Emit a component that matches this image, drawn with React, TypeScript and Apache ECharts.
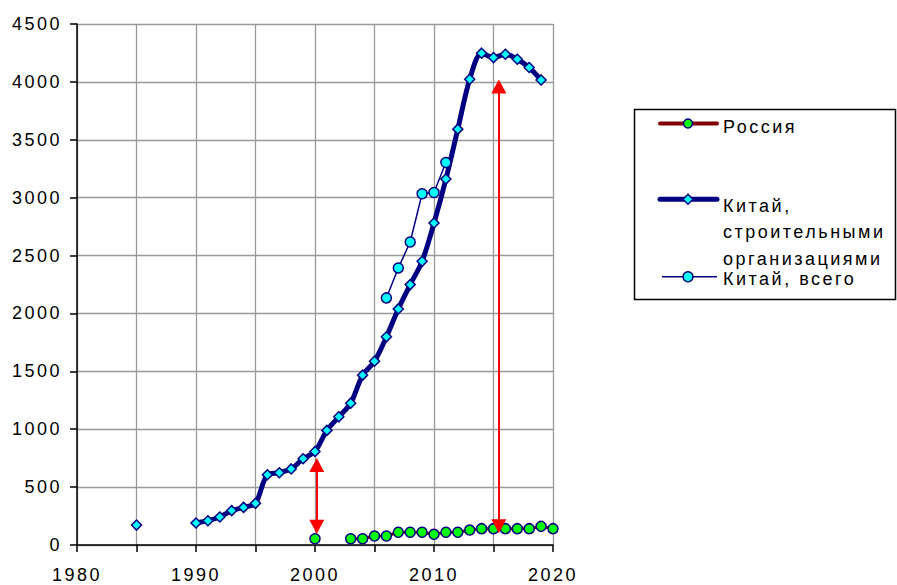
import React, { useEffect, useRef } from 'react';
import * as echarts from 'echarts';

const years = [
  1985, 1986, 1987, 1988, 1989, 1990, 1991, 1992, 1993, 1994, 1995, 1996,
  1997, 1998, 1999, 2000, 2001, 2002, 2003, 2004, 2005, 2006, 2007, 2008,
  2009, 2010, 2011, 2012, 2013, 2014, 2015, 2016, 2017, 2018, 2019, 2020,
];

const russia: (number | null)[] = [
  null, null, null, null, null, null, null, null, null, null, null, null,
  null, null, null, 54, null, null, 54, 54, 78, 78, 110, 110,
  110, 92, 110, 110, 129, 141, 141, 141, 141, 141, 161, 141,
];

const chinaConstruction: (number | null)[] = [
  172, null, null, null, null, 190, 210, 242, 297, 325, 360, 607,
  624, 657, 745, 808, 990, 1107, 1225, 1467, 1587, 1798, 2039, 2249,
  2450, 2781, 3161, 3592, 4023, 4248, 4210, 4239, 4196, 4124, 4017, null,
];

const chinaTotal: (number | null)[] = [
  null, null, null, null, null, null, null, null, null, null, null, null,
  null, null, null, null, null, null, null, null, null, 2134, 2393, 2617,
  3034, 3045, 3304, null, null, null, null, null, null, null, null, null,
];

const seriesNames = ['Россия', 'Китай,\nстроительными\nорганизациями', 'Китай, всего'];

// red double-headed arrows (arrow-head centres): year, upper value, lower value
const arrowYears = [2000.15, 2015.45];
const arrowTop = [690, 3960];
const arrowBottom = [157, 163];

const FONT = '"Liberation Sans", Arial, sans-serif';
const FS = 18;

const pairs = (vals: (number | null)[]) =>
  years.map((y, i) => [y, vals[i] === null ? '-' : vals[i]]);

export default function App() {
  const ref = useRef<HTMLDivElement>(null);
  useEffect(() => {
    document.body.style.margin = '0';
    const chart = echarts.init(ref.current!, null, { renderer: 'svg' });
    const option: any = {
      animation: false,
      backgroundColor: '#ffffff',
      textStyle: { fontFamily: FONT },
      grid: { left: 77, right: 344, top: 24, bottom: 40, containLabel: false },
      xAxis: {
        type: 'value',
        min: 1980,
        max: 2020,
        interval: 5,
        axisLine: { show: true, onZero: false, lineStyle: { color: '#000', width: 1.5 } },
        axisTick: { show: true, length: 7, lineStyle: { color: '#000', width: 1.5 } },
        axisLabel: {
          color: '#000',
          fontSize: FS,
          fontFamily: FONT,
          margin: 21,
          formatter: (v: number) => (v % 10 === 0 ? String(v) : ''),
        },
        splitLine: { show: true, lineStyle: { color: '#999', width: 1.3 } },
      },
      yAxis: {
        type: 'value',
        min: 0,
        max: 4500,
        interval: 500,
        axisLine: { show: true, lineStyle: { color: '#000', width: 1.5 } },
        axisTick: { show: true, length: 7, lineStyle: { color: '#000', width: 1.5 } },
        axisLabel: {
          color: '#000',
          fontSize: FS,
          fontFamily: FONT,
          margin: 15,
          formatter: (v: number) => String(v),
        },
        splitLine: { show: true, lineStyle: { color: '#999', width: 1.3 } },
      },
      series: [
        {
          name: seriesNames[0],
          type: 'line',
          data: pairs(russia),
          symbol: 'circle',
          symbolSize: 10,
          showSymbol: true,
          connectNulls: false,
          lineStyle: { color: '#800000', width: 3 },
          itemStyle: { color: '#00ff00', borderColor: '#000080', borderWidth: 1.5 },
          z: 2,
        },
        {
          name: seriesNames[1],
          type: 'line',
          data: pairs(chinaConstruction),
          symbol: 'diamond',
          symbolSize: 10,
          showSymbol: true,
          smooth: 0.3,
          connectNulls: false,
          lineStyle: { color: '#000080', width: 5 },
          itemStyle: { color: '#00ffff', borderColor: '#000080', borderWidth: 1.5 },
          z: 3,
        },
        {
          name: seriesNames[2],
          type: 'line',
          data: pairs(chinaTotal),
          symbol: 'circle',
          symbolSize: 10,
          showSymbol: true,
          connectNulls: false,
          lineStyle: { color: '#000080', width: 1.5 },
          itemStyle: { color: '#00ffff', borderColor: '#000080', borderWidth: 1.5 },
          z: 4,
        },
        {
          name: 'arrows',
          type: 'line',
          data: [],
          z: 5,
          markLine: {
            silent: true,
            symbol: ['triangle', 'triangle'],
            symbolSize: [15, 14],
            label: { show: false },
            lineStyle: { color: '#ff0000', width: 2, type: 'solid' },
            data: arrowYears.map((yr, i) => [
              { coord: [yr, arrowTop[i]] },
              { coord: [yr, arrowBottom[i]] },
            ]),
          },
        },
      ],
      graphic: [
        {
          type: 'rect',
          shape: { x: 634.5, y: 109.5, width: 261, height: 190 },
          style: { fill: '#fff', stroke: '#000', lineWidth: 1.5 },
          z: 10,
        },
        {
          type: 'line',
          shape: { x1: 660, y1: 123.5, x2: 717, y2: 123.5 },
          style: { stroke: '#800000', lineWidth: 4, lineCap: 'round' },
          z: 11,
        },
        {
          type: 'circle',
          shape: { cx: 688, cy: 123.5, r: 4.5 },
          style: { fill: '#00ff00', stroke: '#000080', lineWidth: 1.5 },
          z: 12,
        },
        {
          type: 'text',
          x: 723,
          y: 127.3,
          style: {
            text: seriesNames[0],
            font: `${FS}px ${FONT}`,
            fill: '#000',
            textAlign: 'left',
            textVerticalAlign: 'middle',
            align: 'left',
            verticalAlign: 'middle',
          },
          z: 12,
        },
        {
          type: 'line',
          shape: { x1: 660, y1: 199.3, x2: 717, y2: 199.3 },
          style: { stroke: '#000080', lineWidth: 5, lineCap: 'round' },
          z: 11,
        },
        {
          type: 'polygon',
          shape: { points: [[688, 194.3], [693, 199.3], [688, 204.3], [683, 199.3]] },
          style: { fill: '#00ffff', stroke: '#000080', lineWidth: 1.5 },
          z: 12,
        },
        {
          type: 'text',
          x: 723,
          y: 232.2,
          style: {
            text: seriesNames[1],
            font: `${FS}px ${FONT}`,
            lineHeight: 26.7,
            fill: '#000',
            textAlign: 'left',
            textVerticalAlign: 'middle',
            align: 'left',
            verticalAlign: 'middle',
          },
          z: 12,
        },
        {
          type: 'line',
          shape: { x1: 662, y1: 276.7, x2: 717, y2: 276.7 },
          style: { stroke: '#000080', lineWidth: 1.5 },
          z: 11,
        },
        {
          type: 'circle',
          shape: { cx: 688, cy: 276.7, r: 5 },
          style: { fill: '#00ffff', stroke: '#000080', lineWidth: 1.5 },
          z: 12,
        },
        {
          type: 'text',
          x: 723,
          y: 278.7,
          style: {
            text: seriesNames[2],
            font: `${FS}px ${FONT}`,
            fill: '#000',
            textAlign: 'left',
            textVerticalAlign: 'middle',
            align: 'left',
            verticalAlign: 'middle',
          },
          z: 12,
        },
      ],
    };
    chart.setOption(option);
    return () => chart.dispose();
  }, []);
  return (
    <div>
      <style>{'body{margin:0} .chart text{letter-spacing:2.5px}'}</style>
      <div ref={ref} className="chart" style={{ width: 897, height: 585 }} />
    </div>
  );
}
